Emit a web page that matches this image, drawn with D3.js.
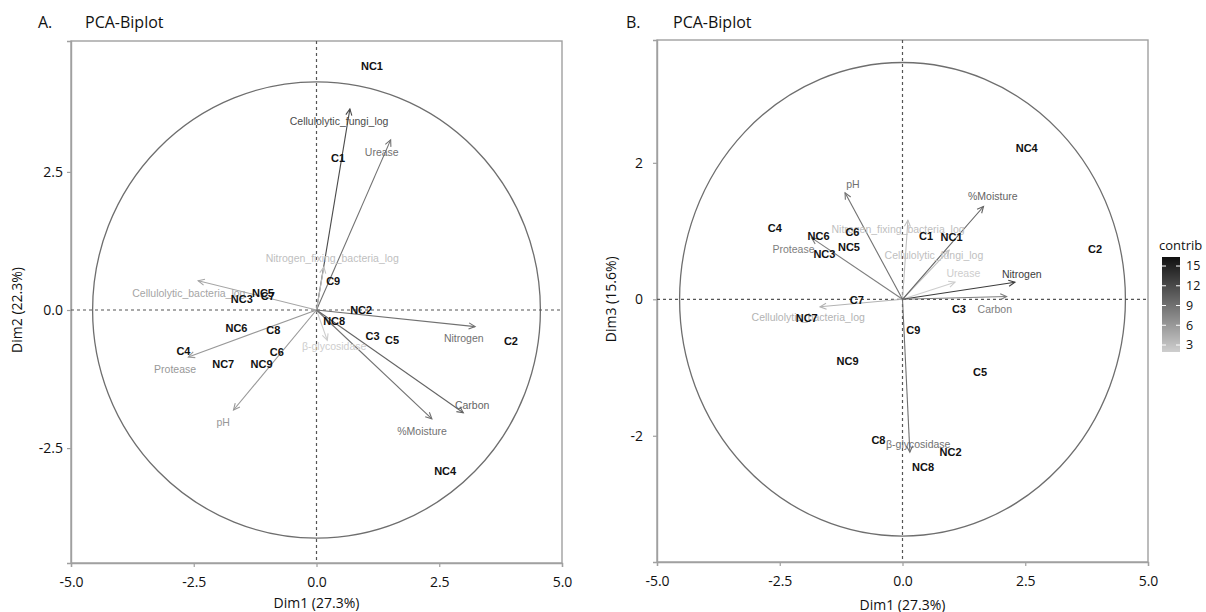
<!DOCTYPE html>
<html><head><meta charset="utf-8">
<script src="https://cdn.jsdelivr.net/npm/d3@7"></script>
<style>body{margin:0;background:#fff}</style>
</head><body>
<svg id="chart" width="1206" height="612"></svg>
<script>
// ---------------- DATA ----------------
const individuals = ["NC1","C1","C9","NC2","NC8","C3","C5","C2","NC4","NC5","NC3","C7","NC6","C8","C4","NC7","NC9","C6"];
// Panel A (Dim1 vs Dim2) label positions of individuals
const indDim1A = [1.13,0.44,0.34,0.91,0.36,1.14,1.54,3.96,2.62,-1.09,-1.52,-0.99,-1.63,-0.88,-2.71,-1.90,-1.12,-0.81];
const indDim2A = [4.42,2.75,0.53,-0.01,-0.21,-0.47,-0.54,-0.57,-2.91,0.31,0.19,0.25,-0.33,-0.36,-0.74,-0.98,-0.98,-0.77];
// Panel B (Dim1 vs Dim3)
const indDim1B = [1.00,0.48,0.22,0.98,0.42,1.15,1.58,3.92,2.53,-1.09,-1.59,-0.93,-1.71,-0.49,-2.60,-1.95,-1.12,-1.02];
const indDim3B = [0.91,0.93,-0.45,-2.24,-2.46,-0.14,-1.07,0.74,2.22,0.77,0.66,-0.01,0.92,-2.07,1.04,-0.27,-0.91,0.98];

const variables = ["Cellulolytic_fungi_log","Urease","Nitrogen_fixing_bacteria_log","Cellulolytic_bacteria_log","Protease","pH","β-glycosidase","Nitrogen","Carbon","%Moisture"];
// Panel A arrows (tips) and label anchors
const varDim1A = [0.68,1.51,0.15,-2.41,-2.61,-1.69,0.22,3.23,2.99,2.35];
const varDim2A = [3.64,3.08,0.78,0.53,-0.85,-1.81,-0.55,-0.30,-1.86,-1.97];
const varLabDim1A = [0.46,1.33,0.32,-2.60,-2.88,-1.90,0.36,3.00,3.17,2.15];
const varLabDim2A = [3.42,2.86,0.94,0.30,-1.07,-2.03,-0.65,-0.51,-1.72,-2.19];
const varContribA = [12,9,3,5,6,6,2,9,10,9];
// Panel B arrows
const varDim1B = [0.95,1.07,0.11,-1.68,-1.85,-1.17,0.15,2.29,2.12,1.65];
const varDim3B = [0.72,0.25,1.16,-0.11,0.90,1.56,-2.24,0.25,0.04,1.36];
const varLabDim1B = [0.64,1.24,-0.09,-1.92,-2.22,-1.01,0.32,2.43,1.88,1.84];
const varLabDim3B = [0.64,0.38,1.02,-0.27,0.73,1.68,-2.13,0.36,-0.14,1.51];
const varContribB = [3,2,3,4,8,9,9,13,8,10];

// correlation circle radii (data units, x and y)
const circleA = [4.56, 4.13];
const circleB = [4.54, 3.47];

const xTickValues = [-5,-2.5,0,2.5,5];
const xTickLabels = ["-5.0","-2.5","0.0","2.5","5.0"];
const yTickValuesA = [-2.5,0,2.5];
const yTickLabelsA = ["-2.5","0.0","2.5"];
const yTickValuesB = [-2,0,2];
const yTickLabelsB = ["-2","0","2"];
const legendTicks = [3,6,9,12,15];

// ---------------- DRAW ----------------
const svg = d3.select("#chart");
const grey = d3.scaleLinear().domain([1,16]).range(["#dadada","#151515"]);
const labFont = "'Liberation Sans', Arial, sans-serif";
const uiFont = "'Open Sans', 'Noto Sans', sans-serif";

function arrowHead(x1,y1,x2,y2,len,ang){
  const a = Math.atan2(y2-y1,x2-x1);
  return `M${x2-len*Math.cos(a-ang)},${y2-len*Math.sin(a-ang)}L${x2},${y2}L${x2-len*Math.cos(a+ang)},${y2-len*Math.sin(a+ang)}`;
}

function panel(cfg){
  const x = d3.scaleLinear().domain([-5,5]).range(cfg.xr);
  const y = d3.scaleLinear().domain(cfg.yd).range(cfg.yr);
  const g = svg.append("g");

  // titles
  g.append("text").attr("x",cfg.letterX).attr("y",28).text(cfg.letter)
    .attr("font-family",uiFont).attr("font-size",16).attr("fill","#111");
  g.append("text").attr("x",cfg.letterX+47).attr("y",28).text("PCA-Biplot")
    .attr("font-family",uiFont).attr("font-size",16).attr("fill","#111");

  // box
  g.append("rect").attr("x",cfg.xr[0]).attr("y",cfg.yr[1])
    .attr("width",cfg.xr[1]-cfg.xr[0]).attr("height",cfg.yr[0]-cfg.yr[1])
    .attr("fill","none").attr("stroke","#a0a0a0").attr("stroke-width",1.4);

  // axes
  const xa = g.append("g").attr("transform",`translate(0,${cfg.yr[0]})`)
    .call(d3.axisBottom(x).tickValues(xTickValues).tickFormat((d,i)=>xTickLabels[i]).tickSize(4).tickPadding(10));
  const ya = g.append("g").attr("transform",`translate(${cfg.xr[0]},0)`)
    .call(d3.axisLeft(y).tickValues(cfg.yTicks).tickFormat((d,i)=>cfg.yLabels[i]).tickSize(4).tickPadding(cfg.yPad));
  [xa,ya].forEach(a=>{
    a.select(".domain").attr("stroke","#a0a0a0").attr("stroke-width",1.4);
    a.selectAll(".tick line").attr("stroke","#a0a0a0").attr("stroke-width",1.2);
    a.selectAll("text").attr("font-family",uiFont).attr("font-size",14).attr("fill","#111");
  });

  // axis titles
  g.append("text").attr("x",(cfg.xr[0]+cfg.xr[1])/2).attr("y",cfg.xTitleY).attr("text-anchor","middle")
    .text("Dim1 (27.3%)").attr("font-family",uiFont).attr("font-size",14).attr("fill","#111");
  g.append("text").attr("transform",`translate(${cfg.yTitleX},${y(0)}) rotate(-90)`).attr("text-anchor","middle")
    .text(cfg.yTitle).attr("font-family",uiFont).attr("font-size",14).attr("fill","#111");

  // circle
  g.append("ellipse").attr("cx",x(0)).attr("cy",y(0))
    .attr("rx",x(cfg.circle[0])-x(0)).attr("ry",y(0)-y(cfg.circle[1]))
    .attr("fill","none").attr("stroke","#6e6e6e").attr("stroke-width",1.3);

  // reference lines
  g.append("line").attr("x1",x(0)).attr("x2",x(0)).attr("y1",cfg.yr[1]).attr("y2",cfg.yr[0])
    .attr("stroke","#555").attr("stroke-width",1.2).attr("stroke-dasharray","3,3");
  g.append("line").attr("x1",cfg.xr[0]).attr("x2",cfg.xr[1]).attr("y1",y(0)).attr("y2",y(0))
    .attr("stroke","#555").attr("stroke-width",1.2).attr("stroke-dasharray","3,3");

  // arrows
  const vars = variables.map((v,i)=>({name:v,x:cfg.vx[i],y:cfg.vy[i],lx:cfg.lx[i],ly:cfg.ly[i],c:cfg.contrib[i]}));
  vars.forEach(d=>{
    const col = grey(d.c);
    g.append("line").attr("x1",x(0)).attr("y1",y(0)).attr("x2",x(d.x)).attr("y2",y(d.y))
      .attr("stroke",col).attr("stroke-width",1.1);
    g.append("path").attr("d",arrowHead(x(0),y(0),x(d.x),y(d.y),7,Math.PI/7))
      .attr("fill","none").attr("stroke",col).attr("stroke-width",1.1);
  });
  g.selectAll(".vlab").data(vars).join("text")
    .attr("x",d=>x(d.lx)).attr("y",d=>y(d.ly)).attr("dy","0.35em").attr("text-anchor","middle")
    .text(d=>d.name).attr("font-family",labFont).attr("font-size",10.5).attr("fill",d=>grey(d.c));

  // individuals
  const inds = individuals.map((n,i)=>({name:n,x:cfg.ix[i],y:cfg.iy[i]}));
  g.selectAll(".ilab").data(inds).join("text")
    .attr("x",d=>x(d.x)).attr("y",d=>y(d.y)).attr("dy","0.35em").attr("text-anchor","middle")
    .text(d=>d.name).attr("font-family",labFont).attr("font-weight","bold").attr("font-size",11).attr("fill","#111");
}

panel({letter:"A.",letterX:38,xr:[71,562],yr:[563,41],yd:[-4.58,4.87],
  yTicks:yTickValuesA,yLabels:yTickLabelsA,yPad:4,xTitleY:608,yTitleX:22,yTitle:"Dim2 (22.3%)",
  circle:circleA,vx:varDim1A,vy:varDim2A,lx:varLabDim1A,ly:varLabDim2A,contrib:varContribA,
  ix:indDim1A,iy:indDim2A});
panel({letter:"B.",letterX:626,xr:[657,1148],yr:[562,40],yd:[-3.85,3.80],
  yTicks:yTickValuesB,yLabels:yTickLabelsB,yPad:10,xTitleY:610,yTitleX:616,yTitle:"Dim3 (15.6%)",
  circle:circleB,vx:varDim1B,vy:varDim3B,lx:varLabDim1B,ly:varLabDim3B,contrib:varContribB,
  ix:indDim1B,iy:indDim3B});

// legend
const ly = d3.scaleLinear().domain([1.94,16.37]).range([352,257]);
const defs = svg.append("defs");
const grad = defs.append("linearGradient").attr("id","cg").attr("x1",0).attr("x2",0).attr("y1",1).attr("y2",0);
d3.range(0,1.0001,0.1).forEach(t=>{
  const v = ly.domain()[0]+t*(ly.domain()[1]-ly.domain()[0]);
  grad.append("stop").attr("offset",t).attr("stop-color",grey(v));
});
svg.append("text").attr("x",1159).attr("y",250).text("contrib")
  .attr("font-family",uiFont).attr("font-size",13).attr("fill","#111");
svg.append("rect").attr("x",1162).attr("y",257).attr("width",18).attr("height",95).attr("fill","url(#cg)");
legendTicks.forEach(v=>{
  svg.append("line").attr("x1",1162).attr("x2",1166).attr("y1",ly(v)).attr("y2",ly(v)).attr("stroke","#fff").attr("stroke-width",1);
  svg.append("line").attr("x1",1176).attr("x2",1180).attr("y1",ly(v)).attr("y2",ly(v)).attr("stroke","#fff").attr("stroke-width",1);
  svg.append("text").attr("x",1186).attr("y",ly(v)).attr("dy","0.35em").text(v)
    .attr("font-family",uiFont).attr("font-size",12.5).attr("fill","#111");
});
</script>
</body></html>
